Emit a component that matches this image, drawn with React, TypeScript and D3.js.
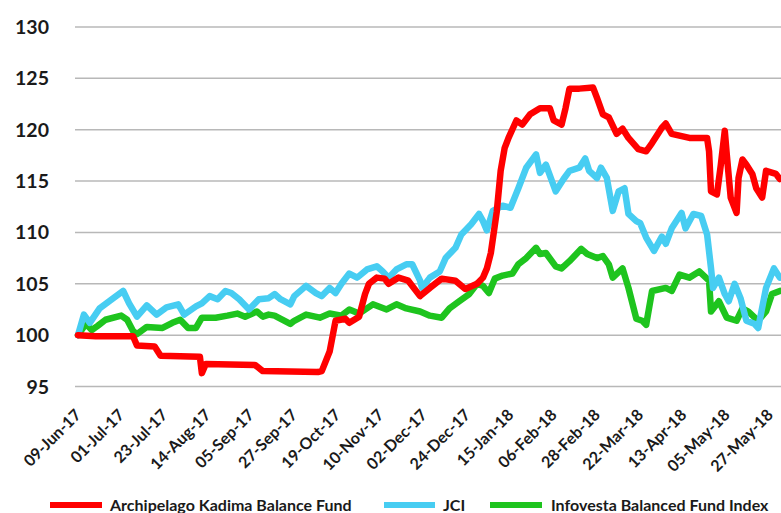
import * as d3 from "d3";

const W = 781;
const H = 513;

// values (date, index level)
const kadima: [string, number][] = [
  ["2017-06-09", 100], ["2017-06-18", 99.9], ["2017-07-07", 99.9], ["2017-07-09", 99.0], ["2017-07-18", 98.9],
  ["2017-07-21", 98.0], ["2017-08-10", 97.9], ["2017-08-11", 96.3], ["2017-08-13", 97.2], ["2017-09-07", 97.1],
  ["2017-09-11", 96.5], ["2017-10-09", 96.4], ["2017-10-11", 96.5], ["2017-10-15", 98.4], ["2017-10-18", 101.4],
  ["2017-10-23", 101.6], ["2017-10-25", 101.2], ["2017-10-30", 101.8], ["2017-11-02", 104], ["2017-11-04", 105],
  ["2017-11-08", 105.6], ["2017-11-12", 105.5], ["2017-11-14", 105], ["2017-11-19", 105.6], ["2017-11-24", 105.3],
  ["2017-11-30", 103.8], ["2017-12-05", 104.6], ["2017-12-11", 105.5], ["2017-12-18", 105.3], ["2017-12-23", 104.5],
  ["2017-12-29", 105], ["2018-01-01", 105.6], ["2018-01-03", 106.5], ["2018-01-05", 108], ["2018-01-08", 112],
  ["2018-01-10", 116], ["2018-01-12", 118.2], ["2018-01-14", 119.2], ["2018-01-18", 120.9], ["2018-01-21", 120.5],
  ["2018-01-25", 121.5], ["2018-01-30", 122.1], ["2018-02-04", 122.1], ["2018-02-06", 120.9], ["2018-02-10", 120.5],
  ["2018-02-12", 122.1], ["2018-02-14", 124], ["2018-02-19", 124], ["2018-02-26", 124.1], ["2018-02-28", 123.1],
  ["2018-03-03", 121.5], ["2018-03-06", 121.2], ["2018-03-10", 119.6], ["2018-03-13", 120.1], ["2018-03-16", 119.2],
  ["2018-03-21", 118.1], ["2018-03-25", 117.9], ["2018-03-28", 118.7], ["2018-04-02", 120.2], ["2018-04-04", 120.6],
  ["2018-04-07", 119.6], ["2018-04-16", 119.2], ["2018-04-25", 119.2], ["2018-04-26", 117.9], ["2018-04-27", 114],
  ["2018-04-30", 113.7], ["2018-05-02", 116.6], ["2018-05-04", 119.9], ["2018-05-05", 117.6], ["2018-05-07", 113.4],
  ["2018-05-10", 111.9], ["2018-05-11", 115.3], ["2018-05-13", 117.1], ["2018-05-15", 116.6], ["2018-05-18", 115.7],
  ["2018-05-20", 114.3], ["2018-05-23", 113.4], ["2018-05-25", 116], ["2018-05-30", 115.7], ["2018-06-01", 115.2],
];

const jci: [string, number][] = [
  ["2017-06-09", 100], ["2017-06-12", 102], ["2017-06-15", 101.2], ["2017-06-20", 102.6], ["2017-06-27", 103.6],
  ["2017-07-02", 104.3], ["2017-07-05", 103.1], ["2017-07-09", 101.8], ["2017-07-14", 102.9], ["2017-07-19", 102],
  ["2017-07-24", 102.7], ["2017-07-30", 103], ["2017-08-02", 102], ["2017-08-08", 102.8], ["2017-08-11", 103.1],
  ["2017-08-15", 103.8], ["2017-08-19", 103.5], ["2017-08-23", 104.3], ["2017-08-26", 104.1], ["2017-08-30", 103.5],
  ["2017-09-04", 102.5], ["2017-09-09", 103.5], ["2017-09-14", 103.6], ["2017-09-17", 104], ["2017-09-20", 103.5],
  ["2017-09-25", 103], ["2017-09-27", 103.8], ["2017-10-03", 104.8], ["2017-10-08", 104.1], ["2017-10-11", 103.8],
  ["2017-10-15", 104.6], ["2017-10-18", 104.1], ["2017-10-21", 105], ["2017-10-25", 106], ["2017-10-29", 105.6],
  ["2017-11-03", 106.4], ["2017-11-08", 106.7], ["2017-11-11", 106.2], ["2017-11-14", 105.6], ["2017-11-18", 106.4],
  ["2017-11-23", 106.9], ["2017-11-26", 106.9], ["2017-11-30", 105.3], ["2017-12-01", 104.6], ["2017-12-05", 105.6],
  ["2017-12-10", 106.2], ["2017-12-13", 107.5], ["2017-12-18", 108.5], ["2017-12-21", 109.8], ["2017-12-26", 110.8],
  ["2017-12-30", 111.8], ["2018-01-01", 111.1], ["2018-01-03", 110.2], ["2018-01-06", 112.1], ["2018-01-11", 112.6],
  ["2018-01-15", 112.4], ["2018-01-19", 114.3], ["2018-01-23", 116.3], ["2018-01-28", 117.6], ["2018-01-30", 115.8],
  ["2018-02-02", 116.6], ["2018-02-07", 114], ["2018-02-11", 115.2], ["2018-02-14", 116], ["2018-02-19", 116.3],
  ["2018-02-22", 117.2], ["2018-02-24", 116], ["2018-02-28", 115.3], ["2018-03-02", 116.3], ["2018-03-05", 115.3],
  ["2018-03-08", 112.1], ["2018-03-11", 114], ["2018-03-14", 114.3], ["2018-03-16", 111.8], ["2018-03-20", 111.1],
  ["2018-03-22", 110.9], ["2018-03-25", 109.5], ["2018-03-29", 108.2], ["2018-04-02", 109.6], ["2018-04-04", 108.9],
  ["2018-04-07", 110.4], ["2018-04-12", 111.9], ["2018-04-14", 110.4], ["2018-04-18", 111.8], ["2018-04-22", 111.6],
  ["2018-04-25", 109.8], ["2018-04-27", 106.5], ["2018-04-28", 104.6], ["2018-05-01", 105.6], ["2018-05-04", 104],
  ["2018-05-06", 103.3], ["2018-05-09", 105], ["2018-05-12", 103.6], ["2018-05-15", 101.4], ["2018-05-19", 101.1],
  ["2018-05-21", 100.7], ["2018-05-25", 104.6], ["2018-05-29", 106.5], ["2018-06-01", 105.6],
];

const infovesta: [string, number][] = [
  ["2017-06-09", 100], ["2017-06-13", 101.1], ["2017-06-16", 100.5], ["2017-06-19", 100.9], ["2017-06-23", 101.5],
  ["2017-07-01", 101.9], ["2017-07-04", 101.5], ["2017-07-07", 100.4], ["2017-07-09", 100.1], ["2017-07-14", 100.8],
  ["2017-07-22", 100.7], ["2017-07-27", 101.2], ["2017-07-31", 101.5], ["2017-08-04", 100.7], ["2017-08-08", 100.7],
  ["2017-08-11", 101.7], ["2017-08-18", 101.7], ["2017-08-24", 101.9], ["2017-08-29", 102.1], ["2017-09-02", 101.8],
  ["2017-09-08", 102.3], ["2017-09-11", 101.8], ["2017-09-14", 102], ["2017-09-17", 101.9], ["2017-09-25", 101.1],
  ["2017-09-27", 101.4], ["2017-10-03", 102], ["2017-10-10", 101.7], ["2017-10-15", 102.1], ["2017-10-21", 101.9],
  ["2017-10-25", 102.5], ["2017-10-30", 102.1], ["2017-11-06", 103], ["2017-11-13", 102.5], ["2017-11-18", 103],
  ["2017-11-23", 102.6], ["2017-11-30", 102.3], ["2017-12-05", 101.9], ["2017-12-11", 101.7], ["2017-12-15", 102.6],
  ["2017-12-20", 103.3], ["2017-12-25", 104], ["2017-12-29", 105], ["2018-01-01", 104.8], ["2018-01-04", 104.1],
  ["2018-01-07", 105.5], ["2018-01-11", 105.8], ["2018-01-16", 106], ["2018-01-19", 106.9], ["2018-01-23", 107.5],
  ["2018-01-28", 108.5], ["2018-01-30", 107.9], ["2018-02-02", 108], ["2018-02-07", 106.7], ["2018-02-10", 106.5],
  ["2018-02-14", 107.2], ["2018-02-20", 108.4], ["2018-02-23", 107.9], ["2018-02-28", 107.5], ["2018-03-03", 107.7],
  ["2018-03-06", 106.9], ["2018-03-08", 105.6], ["2018-03-13", 106.5], ["2018-03-16", 104.6], ["2018-03-20", 101.6],
  ["2018-03-23", 101.4], ["2018-03-25", 101], ["2018-03-28", 104.3], ["2018-04-04", 104.6], ["2018-04-07", 104.3],
  ["2018-04-11", 105.9], ["2018-04-16", 105.6], ["2018-04-21", 106.2], ["2018-04-26", 105.3], ["2018-04-27", 102.3],
  ["2018-05-01", 103.3], ["2018-05-05", 101.7], ["2018-05-10", 101.4], ["2018-05-13", 102.6], ["2018-05-16", 102.3],
  ["2018-05-21", 101.4], ["2018-05-25", 102.3], ["2018-05-28", 104], ["2018-06-01", 104.3],
];

const xTickLabels = [
  "09-Jun-17", "01-Jul-17", "23-Jul-17", "14-Aug-17", "05-Sep-17", "27-Sep-17", "19-Oct-17", "10-Nov-17",
  "02-Dec-17", "24-Dec-17", "15-Jan-18", "06-Feb-18", "28-Feb-18", "22-Mar-18", "13-Apr-18", "05-May-18", "27-May-18",
];
const yTicks = [95, 100, 105, 110, 115, 120, 125, 130];

const seriesNames = ["Archipelago Kadima Balance Fund", "JCI", "Infovesta Balanced Fund Index"];
const seriesColors = ["#ff0000", "#47cdf2", "#1ec41e"];

const parseIso = d3.timeParse("%Y-%m-%d");
const parseTick = d3.timeParse("%d-%b-%y");

const FONT = "Lato, 'Open Sans', sans-serif";

export default function App() {
  const tickDates = xTickLabels.map((l) => parseTick(l)!);
  const x = d3.scaleTime()
    .domain([tickDates[0], tickDates[tickDates.length - 1]])
    .range([78, 770]);
  const y = d3.scaleLinear().domain([95, 130]).range([386.5, 27]);

  const line = d3.line<[string, number]>()
    .x((d) => x(parseIso(d[0])!))
    .y((d) => y(d[1]));

  const allSeries = [kadima, jci, infovesta];
  const drawOrder = [2, 1, 0];

  const legend = [
    { x0: 50, x1: 102, tx: 110 },
    { x0: 384, x1: 435, tx: 443 },
    { x0: 490, x1: 542, tx: 551 },
  ];

  return (
    <svg width={W} height={H} style={{ position: "fixed", left: 0, top: 0, background: "#fff" }}
      fontFamily={FONT}>
      <rect width={W} height={H} fill="#fff" />
      {yTicks.map((t) => (
        <g key={t}>
          <line x1={75} x2={W} y1={y(t)} y2={y(t)} stroke="#b8b8b8" strokeWidth={1.5} />
          <text x={49} y={y(t)} dy="0.36em" textAnchor="end" fontSize={19.5} fontWeight={700} fill="#1a1a1a">
            {t}
          </text>
        </g>
      ))}
      {xTickLabels.map((l, i) => (
        <text key={l} transform={`translate(${x(tickDates[i]) + 4},${416}) rotate(-45)`} textAnchor="end"
          fontSize={16} fontWeight={700} fill="#1a1a1a">
          {l}
        </text>
      ))}
      {drawOrder.map((i) => (
        <path key={i} d={line(allSeries[i]) ?? ""} fill="none" stroke={seriesColors[i]} strokeWidth={6.5}
          strokeLinejoin="round" strokeLinecap="round" />
      ))}
      {seriesNames.map((n, i) => (
        <g key={n}>
          <line x1={legend[i].x0} x2={legend[i].x1} y1={505} y2={505} stroke={seriesColors[i]} strokeWidth={6} />
          <text x={legend[i].tx} y={505} dy="0.36em" fontSize={16} fontWeight={700} fill="#1a1a1a">{n}</text>
        </g>
      ))}
    </svg>
  );
}
